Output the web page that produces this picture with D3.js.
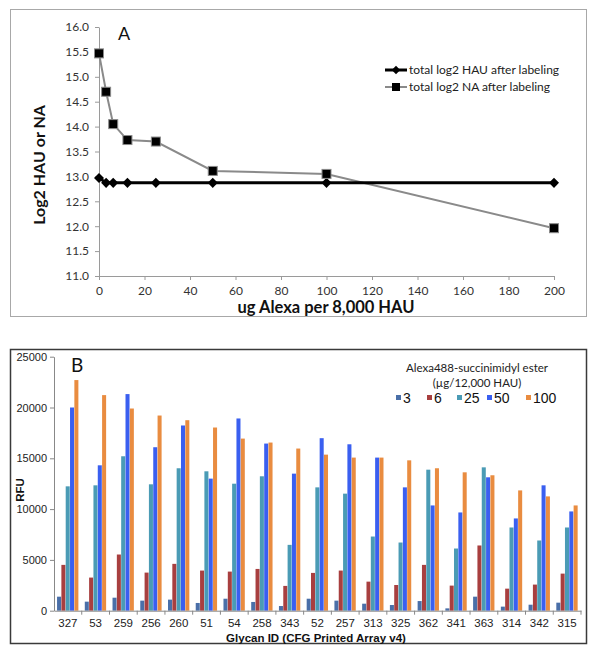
<!DOCTYPE html>
<html><head><meta charset="utf-8">
<script src="https://cdn.jsdelivr.net/npm/d3@7"></script>
<style>
body{margin:0;background:#fff;}
svg{display:block;}
</style></head>
<body>
<svg id="chart" width="596" height="655"></svg>
<script>
// ---------- Panel A data ----------
const alexaUg = [0, 3.125, 6.25, 12.5, 25, 50, 100, 200];
const log2HAU = [12.97, 12.87, 12.87, 12.87, 12.87, 12.87, 12.87, 12.87];
const log2NA  = [15.47, 14.70, 14.05, 13.73, 13.70, 13.11, 13.05, 11.96];
const seriesA = ["total log2 HAU after labeling", "total log2 NA after labeling"];
const yTicksA = [11.0, 11.5, 12.0, 12.5, 13.0, 13.5, 14.0, 14.5, 15.0, 15.5, 16.0];
const xTicksA = [0, 20, 40, 60, 80, 100, 120, 140, 160, 180, 200];

// ---------- Panel B data ----------
const glycanIDs = ["327","53","259","256","260","51","54","258","343","52","257","313","325","362","341","363","314","342","315"];
const doseLabels = ["3","6","25","50","100"];
const rfu3   = [1380, 890, 1280, 990, 1090, 760, 1180, 860, 460, 1180, 990, 690, 560, 950, 230, 1380, 400, 590, 790];
const rfu6   = [4510, 3260, 5530, 3750, 4610, 3950, 3850, 4110, 2440, 3720, 3950, 2860, 2530, 4510, 2470, 6420, 2170, 2570, 3650];
const rfu25  = [12240, 12340, 15200, 12440, 14020, 13720, 12500, 13230, 6480, 12140, 11520, 7300, 6710, 13880, 6120, 14110, 8190, 6910, 8190];
const rfu50  = [20000, 14310, 21320, 16090, 18230, 13000, 18920, 16450, 13490, 16980, 16380, 15070, 12140, 10360, 9670, 13130, 9080, 12340, 9770];
const rfu100 = [22700, 21220, 19900, 19210, 18750, 18030, 16940, 16550, 15960, 15360, 15070, 15070, 14800, 14020, 13620, 13330, 11840, 11250, 10360];
const yTicksB = [0, 5000, 10000, 15000, 20000, 25000];
const doseColors = ["#4a6fa8", "#a83f3f", "#4a9bb5", "#3a5ff0", "#e98c40"];

const svg = d3.select("#chart");

// ================= Panel A =================
svg.append("rect").attr("x", 10.5).attr("y", 9.5).attr("width", 576).attr("height", 307)
  .attr("fill", "#fff").attr("stroke", "#a8a8a8").attr("stroke-width", 1);

const xA = d3.scaleLinear().domain([0, 200]).range([99, 554]);
const yA = d3.scaleLinear().domain([11, 16]).range([276, 27]);

const gA = svg.append("g");
const axXA = gA.append("g").attr("transform", `translate(0,${yA(11)})`)
  .call(d3.axisBottom(xA).tickValues(xTicksA).tickSize(4).tickSizeOuter(0).tickFormat(d3.format("d")));
const axYA = gA.append("g").attr("transform", `translate(${xA(0)},0)`)
  .call(d3.axisLeft(yA).tickValues(yTicksA).tickSize(4).tickSizeOuter(0).tickFormat(d3.format(".1f")));
[axXA, axYA].forEach(a => {
  a.select(".domain").attr("stroke", "#9a9a9a");
  a.selectAll(".tick line").attr("stroke", "#9a9a9a");
  a.selectAll("text").attr("font-family", "Lato, 'Open Sans', sans-serif").attr("font-size", 12).attr("fill", "#333");
});
axXA.selectAll("text").attr("dy", "0.95em").attr("y", 8);
axYA.selectAll("text").attr("x", -10);

gA.append("text").attr("x", 326).attr("y", 313).attr("text-anchor", "middle")
  .attr("font-family", "Lato, 'Open Sans', sans-serif").attr("font-weight", "bold").attr("font-size", 16.5)
  .attr("fill", "#111").text("ug Alexa per 8,000 HAU");
gA.append("text").attr("transform", "translate(45,165) rotate(-90)").attr("text-anchor", "middle")
  .attr("font-family", "Lato, 'Open Sans', sans-serif").attr("font-weight", "bold").attr("font-size", 16)
  .attr("fill", "#111").text("Log2 HAU or NA");
gA.append("text").attr("x", 118).attr("y", 40).attr("font-family", "Lato, 'Open Sans', sans-serif")
  .attr("font-size", 18).attr("fill", "#111").text("A");

const lineA = d3.line().x(d => xA(d[0])).y(d => yA(d[1]));
const naPts = alexaUg.map((u, i) => [u, log2NA[i]]);
const hauPts = alexaUg.map((u, i) => [u, log2HAU[i]]);

gA.append("path").datum(naPts).attr("d", lineA).attr("fill", "none").attr("stroke", "#8a8a8a").attr("stroke-width", 2);
gA.append("path").datum(hauPts).attr("d", lineA).attr("fill", "none").attr("stroke", "#000").attr("stroke-width", 3);

const diamond = d3.symbol().type(d3.symbolDiamond2).size(64);
gA.selectAll(".dia").data(hauPts).join("path").attr("class", "dia")
  .attr("transform", d => `translate(${xA(d[0])},${yA(d[1])})`).attr("d", diamond).attr("fill", "#000");
gA.selectAll(".sq").data(naPts).join("rect").attr("class", "sq")
  .attr("x", d => xA(d[0]) - 4.5).attr("y", d => yA(d[1]) - 4.5).attr("width", 9).attr("height", 9)
  .attr("fill", "#000").attr("stroke", "#8a8a8a").attr("stroke-width", 1);

// Legend A
const legA = gA.append("g");
seriesA.forEach((s, i) => {
  const ly = 70 + i * 17;
  legA.append("line").attr("x1", 385).attr("x2", 407).attr("y1", ly).attr("y2", ly)
    .attr("stroke", i === 0 ? "#000" : "#8a8a8a").attr("stroke-width", i === 0 ? 3 : 2);
  if (i === 0) {
    legA.append("path").attr("transform", `translate(396,${ly})`).attr("d", d3.symbol().type(d3.symbolDiamond2).size(45)).attr("fill", "#000");
  } else {
    legA.append("rect").attr("x", 392).attr("y", ly - 4).attr("width", 8).attr("height", 8).attr("fill", "#000");
  }
  legA.append("text").attr("x", 409).attr("y", ly).attr("dy", "0.35em")
    .attr("font-family", "Lato, 'Open Sans', sans-serif").attr("font-size", 12).attr("fill", "#222").text(s);
});

// ================= Panel B =================
svg.append("rect").attr("x", 10.5).attr("y", 349.5).attr("width", 576).attr("height", 294)
  .attr("fill", "#fff").attr("stroke", "#3a3a3a").attr("stroke-width", 1.5);

const x0B = d3.scaleBand().domain(glycanIDs).range([54, 581]).paddingInner(0.22).paddingOuter(0.11);
const x1B = d3.scaleBand().domain(doseLabels).range([0, x0B.bandwidth()]);
const yB = d3.scaleLinear().domain([0, 25000]).range([610.7, 356.7]);
const seriesB = [rfu3, rfu6, rfu25, rfu50, rfu100];

const gB = svg.append("g");
const groups = gB.selectAll(".grp").data(glycanIDs).join("g").attr("class", "grp")
  .attr("transform", d => `translate(${x0B(d)},0)`);
groups.selectAll("rect").data((d, gi) => doseLabels.map((dl, si) => ({dl, v: seriesB[si][gi], c: doseColors[si]})))
  .join("rect").attr("x", d => x1B(d.dl)).attr("width", x1B.bandwidth() - 0.3)
  .attr("y", d => yB(d.v)).attr("height", d => yB(0) - yB(d.v)).attr("fill", d => d.c);

const axYB = gB.append("g").attr("transform", "translate(54,0)")
  .call(d3.axisLeft(yB).tickValues(yTicksB).tickSize(4).tickSizeOuter(0).tickFormat(d3.format("d")));
axYB.select(".domain").attr("stroke", "#888");
axYB.selectAll(".tick line").attr("stroke", "#888");
axYB.selectAll("text").attr("font-family", "Arial, 'Liberation Sans', sans-serif").attr("font-size", 11).attr("fill", "#222").attr("x", -7);

const axXB = gB.append("g").attr("transform", `translate(0,${yB(0)})`)
  .call(d3.axisBottom(x0B).tickSize(0).tickSizeOuter(0));
axXB.select(".domain").attr("stroke", "#888");
axXB.selectAll("text").attr("font-family", "Arial, 'Liberation Sans', sans-serif").attr("font-size", 11.5).attr("fill", "#222").attr("y", 8);
const step = x0B.step();
gB.selectAll(".btick").data(glycanIDs.slice(1)).join("line").attr("class", "btick")
  .attr("x1", d => x0B(d) - step * 0.11).attr("x2", d => x0B(d) - step * 0.11)
  .attr("y1", yB(0)).attr("y2", yB(0) + 4).attr("stroke", "#888");
gB.append("line").attr("x1", 581).attr("x2", 581).attr("y1", yB(0)).attr("y2", yB(0) + 4).attr("stroke", "#888");

gB.append("text").attr("x", 316).attr("y", 642).attr("text-anchor", "middle")
  .attr("font-family", "Arial, 'Liberation Sans', sans-serif").attr("font-weight", "bold").attr("font-size", 11.5)
  .attr("fill", "#111").text("Glycan ID (CFG Printed Array v4)");
gB.append("text").attr("transform", "translate(24,490) rotate(-90)").attr("text-anchor", "middle")
  .attr("font-family", "Arial, 'Liberation Sans', sans-serif").attr("font-weight", "bold").attr("font-size", 11.5)
  .attr("fill", "#111").text("RFU");
gB.append("text").attr("x", 71).attr("y", 372).attr("font-family", "Lato, 'Open Sans', sans-serif")
  .attr("font-size", 19).attr("fill", "#111").text("B");

// Legend B
const legB = gB.append("g");
legB.append("text").attr("x", 477).attr("y", 368).attr("dy", "0.35em").attr("text-anchor", "middle")
  .attr("font-family", "Lato, 'Open Sans', sans-serif").attr("font-size", 11.5).attr("fill", "#222")
  .text("Alexa488-succinimidyl ester");
legB.append("text").attr("x", 477).attr("y", 383).attr("dy", "0.35em").attr("text-anchor", "middle")
  .attr("font-family", "Lato, 'Open Sans', sans-serif").attr("font-size", 11.5).attr("fill", "#222")
  .text("(µg/12,000 HAU)");
const legBx = [396, 427, 457, 487, 526];
doseLabels.forEach((dl, i) => {
  legB.append("rect").attr("x", legBx[i]).attr("y", 395).attr("width", 5).attr("height", 5).attr("fill", doseColors[i]);
  legB.append("text").attr("x", legBx[i] + 7).attr("y", 398).attr("dy", "0.35em")
    .attr("font-family", "Arial, 'Liberation Sans', sans-serif").attr("font-size", 14).attr("fill", "#111").text(dl);
});
</script>
</body></html>
